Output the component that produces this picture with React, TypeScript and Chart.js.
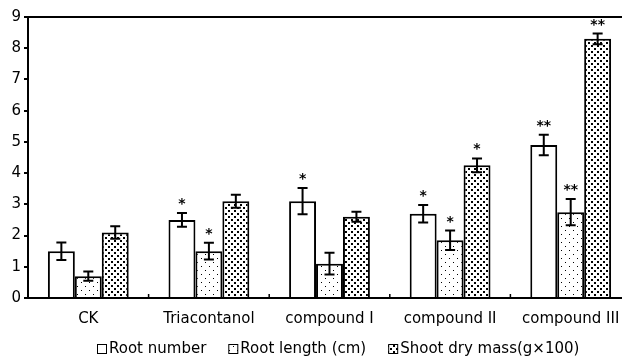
import React, { useEffect, useRef } from "react";
import { Chart, registerables } from "chart.js";

Chart.register(...registerables);

const categories = ["CK", "Triacontanol", "compound I", "compound II", "compound III"];
const seriesNames = ["Root number", "Root length (cm)", "Shoot dry mass(g\u00d7100)"];

const rootNumber = [1.5, 2.5, 3.1, 2.7, 4.9];
const rootNumberErr = [0.28, 0.22, 0.42, 0.28, 0.33];
const rootNumberSig = ["", "*", "*", "*", "**"];

const rootLength = [0.7, 1.5, 1.1, 1.85, 2.75];
const rootLengthErr = [0.15, 0.27, 0.35, 0.31, 0.42];
const rootLengthSig = ["", "*", "", "*", "**"];

const shootMass = [2.1, 3.1, 2.6, 4.25, 8.3];
const shootMassErr = [0.2, 0.21, 0.16, 0.22, 0.17];
const shootMassSig = ["", "", "", "*", "**"];

const yMin = 0;
const yMax = 9;
const yStep = 1;

const FONT = "DejaVu Sans";

function makeSparsePattern(): CanvasPattern | string {
  const c = document.createElement("canvas");
  c.width = 8;
  c.height = 8;
  const g = c.getContext("2d");
  if (!g) return "#fff";
  g.fillStyle = "#fff";
  g.fillRect(0, 0, 8, 8);
  g.fillStyle = "#000";
  g.fillRect(1, 2, 1, 1);
  g.fillRect(5, 6, 1, 1);
  return g.createPattern(c, "repeat") || "#fff";
}

function makeDensePattern(): CanvasPattern | string {
  const c = document.createElement("canvas");
  c.width = 6;
  c.height = 6;
  const g = c.getContext("2d");
  if (!g) return "#888";
  g.fillStyle = "#fff";
  g.fillRect(0, 0, 6, 6);
  g.fillStyle = "#000";
  g.fillRect(0, 0, 2, 2);
  g.fillRect(3, 3, 2, 2);
  return g.createPattern(c, "repeat") || "#888";
}

export default function App() {
  const ref = useRef<HTMLCanvasElement | null>(null);

  useEffect(() => {
    const canvas = ref.current;
    if (!canvas) return;
    const sparse = makeSparsePattern();
    const dense = makeDensePattern();
    const errs = [rootNumberErr, rootLengthErr, shootMassErr];
    const sigs = [rootNumberSig, rootLengthSig, shootMassSig];
    const fills = ["#ffffff", sparse, dense];

    const extras = {
      id: "extras",
      afterDatasetsDraw(chart: any) {
        const ctx = chart.ctx;
        const ys = chart.scales.y;
        const xs = chart.scales.x;
        const area = chart.chartArea;
        ctx.save();
        chart.data.datasets.forEach((ds: any, di: number) => {
          const meta = chart.getDatasetMeta(di);
          meta.data.forEach((bar: any, i: number) => {
            const v = ds.data[i];
            const e = errs[di][i];
            const yTop = ys.getPixelForValue(v + e);
            const yBot = ys.getPixelForValue(v - e);
            const x = bar.x;
            ctx.strokeStyle = "#000";
            ctx.lineWidth = 2;
            ctx.beginPath();
            ctx.moveTo(x, yTop);
            ctx.lineTo(x, yBot);
            ctx.moveTo(x - 5, yTop);
            ctx.lineTo(x + 5, yTop);
            ctx.moveTo(x - 5, yBot);
            ctx.lineTo(x + 5, yBot);
            ctx.stroke();
            const s = sigs[di][i];
            if (s) {
              ctx.fillStyle = "#000";
              ctx.font = `bold 14px "${FONT}"`;
              ctx.textAlign = "center";
              ctx.textBaseline = "alphabetic";
              ctx.fillText(s, x, yTop - 5);
            }
          });
        });
        ctx.strokeStyle = "#000";
        ctx.lineWidth = 2;
        ctx.beginPath();
        ctx.moveTo(area.left, area.top);
        ctx.lineTo(area.right + 20, area.top);
        ctx.stroke();
        ctx.lineWidth = 1.5;
        ctx.beginPath();
        for (let i = 1; i < categories.length; i++) {
          const bx = (xs.getPixelForValue(i - 1) + xs.getPixelForValue(i)) / 2;
          ctx.moveTo(bx, area.bottom);
          ctx.lineTo(bx, area.bottom - 4);
        }
        ctx.stroke();
        ctx.restore();
      },
      afterDraw(chart: any) {
        const ctx = chart.ctx;
        ctx.save();
        ctx.font = `15px "${FONT}"`;
        ctx.textBaseline = "middle";
        ctx.textAlign = "left";
        let x = 97;
        const cy = 349;
        seriesNames.forEach((name, i) => {
          ctx.fillStyle = fills[i];
          ctx.fillRect(x, cy - 5, 10, 10);
          ctx.strokeStyle = "#000";
          ctx.lineWidth = 1;
          ctx.strokeRect(x + 0.5, cy - 4.5, 9, 9);
          ctx.fillStyle = "#000";
          ctx.fillText(name, x + 12, cy);
          x += 12 + ctx.measureText(name).width + 22;
        });
        ctx.restore();
      },
    };

    const chart = new Chart(canvas, {
      type: "bar",
      data: {
        labels: categories,
        datasets: [rootNumber, rootLength, shootMass].map((d, i) => ({
          label: seriesNames[i],
          data: d,
          backgroundColor: fills[i] as any,
          borderColor: "#000",
          borderWidth: 2,
          borderSkipped: "bottom",
          categoryPercentage: 0.67,
          barPercentage: 1.0,
        })),
      },
      options: {
        responsive: false,
        animation: false,
        layout: { padding: { top: 17, right: 9, left: 0, bottom: 0 } },
        plugins: {
          legend: { display: false },
          tooltip: { enabled: false },
        },
        scales: {
          x: {
            grid: { display: true, drawOnChartArea: false, drawTicks: false },
            border: { display: true, color: "#000", width: 2 },
            ticks: {
              color: "#000",
              font: { family: FONT, size: 15 },
              padding: 12,
              maxRotation: 0,
            },
            afterFit: (s: any) => {
              s.height = 59;
            },
          },
          y: {
            min: yMin,
            max: yMax,
            grid: {
              display: true,
              drawOnChartArea: false,
              drawTicks: true,
              tickLength: 4,
              color: "#000",
              lineWidth: 2,
            },
            border: { display: true, color: "#000", width: 2 },
            ticks: {
              stepSize: yStep,
              color: "#000",
              font: { family: FONT, size: 15 },
              padding: 3,
            },
            afterFit: (s: any) => {
              s.width = 28;
            },
          },
        },
      },
      plugins: [extras],
    });
    return () => chart.destroy();
  }, []);

  return (
    <div
      style={{
        position: "absolute",
        left: 0,
        top: 0,
        width: 622,
        height: 357,
        overflow: "hidden",
        background: "#fff",
      }}
    >
      <canvas ref={ref} width={640} height={357} style={{ width: 640, height: 357 }} />
    </div>
  );
}
